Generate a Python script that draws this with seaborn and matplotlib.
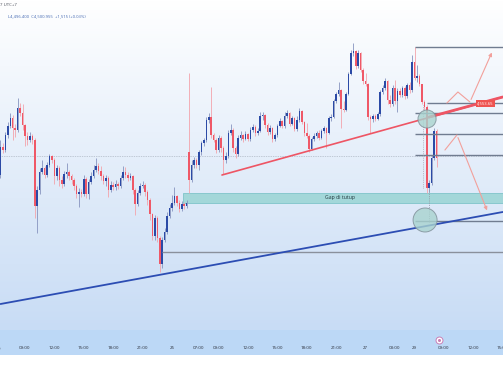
import numpy as np
import matplotlib
matplotlib.use('Agg')
import matplotlib.pyplot as plt
import matplotlib.transforms as mtransforms
from matplotlib.patches import Rectangle, Ellipse
from matplotlib.colors import LinearSegmentedColormap
import seaborn as sns

sns.set_theme(style='white')
plt.rcParams['font.family'] = ['Open Sans', 'DejaVu Sans']

# 15m candles
first_open = 4482
gap_idx = 77
gap_open = 4505

close = np.array([
    4510, 4507, 4522, 4531, 4539, 4529, 4527, 4549, 4544, 4532, 4521, 4517,
    4521, 4517, 4451, 4467, 4485, 4489, 4482, 4492, 4501, 4497, 4481, 4489,
    4477, 4473, 4483, 4485, 4481, 4477, 4471, 4463, 4465, 4463, 4478, 4463,
    4475, 4481, 4487, 4491, 4486, 4481, 4476, 4479, 4467, 4472, 4470, 4473,
    4471, 4479, 4485, 4482, 4479, 4481, 4467, 4453, 4464, 4471, 4472, 4465,
    4457, 4443, 4421, 4439, 4419, 4393, 4417, 4425, 4441, 4449, 4454, 4461,
    4454, 4448, 4453, 4451, 4454, 4477, 4492, 4497, 4492, 4505, 4514, 4517,
    4537, 4540, 4522, 4517, 4507, 4519, 4509, 4497, 4501, 4524, 4527, 4509,
    4503, 4519, 4522, 4518, 4523, 4518, 4527, 4530, 4524, 4526, 4541, 4542,
    4532, 4525, 4529, 4518, 4522, 4531, 4536, 4531, 4541, 4544, 4533, 4539,
    4528, 4537, 4546, 4535, 4524, 4521, 4508, 4518, 4521, 4524, 4519, 4526,
    4529, 4524, 4539, 4540, 4556, 4563, 4567, 4548, 4547, 4563, 4583, 4604,
    4606, 4591, 4604, 4587, 4576, 4573, 4540, 4538, 4541, 4538, 4543, 4565,
    4569, 4576, 4557, 4553, 4569, 4556, 4566, 4562, 4569, 4561, 4572, 4567,
    4595, 4579, 4581, 4573, 4555, 4550, 4469, 4474, 4499, 4526, 4499])

high = np.array([
    4517, 4514, 4525, 4535, 4544, 4542, 4533, 4559, 4554, 4553, 4533, 4525,
    4525, 4523, 4519, 4471, 4489, 4497, 4491, 4495, 4503, 4502, 4499, 4492,
    4491, 4481, 4486, 4494, 4487, 4483, 4479, 4473, 4469, 4468, 4482, 4480,
    4478, 4485, 4492, 4499, 4494, 4491, 4483, 4482, 4481, 4476, 4475, 4477,
    4475, 4482, 4491, 4490, 4485, 4484, 4482, 4469, 4467, 4474, 4476, 4474,
    4467, 4459, 4444, 4442, 4441, 4421, 4420, 4429, 4445, 4453, 4462, 4470,
    4462, 4457, 4456, 4455, 4457, 4584, 4497, 4500, 4499, 4507, 4516, 4519,
    4540, 4544, 4570, 4524, 4519, 4522, 4521, 4511, 4505, 4527, 4533, 4529,
    4511, 4522, 4526, 4523, 4526, 4524, 4530, 4533, 4532, 4529, 4545, 4545,
    4543, 4534, 4532, 4530, 4524, 4533, 4539, 4537, 4545, 4547, 4545, 4541,
    4540, 4541, 4549, 4547, 4536, 4534, 4523, 4520, 4524, 4526, 4527, 4528,
    4531, 4530, 4541, 4543, 4558, 4565, 4575, 4568, 4556, 4565, 4585, 4607,
    4614, 4607, 4607, 4605, 4589, 4584, 4574, 4542, 4543, 4543, 4545, 4567,
    4572, 4579, 4577, 4562, 4572, 4577, 4569, 4569, 4571, 4571, 4574, 4575,
    4602, 4610, 4592, 4583, 4573, 4557, 4552, 4477, 4502, 4529, 4528])

low = np.array([
    4479, 4504, 4505, 4519, 4529, 4517, 4520, 4525, 4541, 4527, 4511, 4512,
    4515, 4513, 4439, 4424, 4463, 4483, 4479, 4480, 4490, 4494, 4473, 4477,
    4471, 4469, 4471, 4479, 4477, 4473, 4467, 4459, 4450, 4460, 4461, 4459,
    4458, 4473, 4479, 4485, 4483, 4477, 4473, 4471, 4460, 4465, 4467, 4467,
    4468, 4469, 4477, 4479, 4476, 4477, 4463, 4442, 4451, 4462, 4469, 4461,
    4452, 4437, 4417, 4417, 4415, 4385, 4389, 4415, 4423, 4439, 4446, 4452,
    4451, 4445, 4446, 4448, 4449, 4464, 4475, 4489, 4489, 4487, 4502, 4511,
    4515, 4534, 4519, 4515, 4504, 4505, 4505, 4483, 4494, 4499, 4522, 4505,
    4499, 4501, 4517, 4515, 4517, 4516, 4516, 4525, 4521, 4522, 4525, 4537,
    4529, 4522, 4523, 4515, 4516, 4520, 4530, 4529, 4529, 4539, 4531, 4532,
    4526, 4526, 4535, 4533, 4521, 4519, 4505, 4507, 4516, 4519, 4517, 4518,
    4524, 4509, 4523, 4536, 4539, 4554, 4561, 4529, 4545, 4546, 4562, 4582,
    4601, 4588, 4589, 4585, 4573, 4571, 4537, 4524, 4535, 4536, 4537, 4541,
    4563, 4567, 4553, 4550, 4551, 4553, 4545, 4560, 4560, 4558, 4559, 4564,
    4565, 4577, 4575, 4571, 4553, 4547, 4464, 4465, 4472, 4497, 4490])

time_pos = [10, 22, 34, 46, 58, 70, 81, 89, 101, 113, 125, 137, 149, 161, 169, 181, 193, 205]
time_labels = ['09:00', '12:00', '15:00', '18:00', '21:00', '25', '07:00', '09:00', '12:00',
               '15:00', '18:00', '21:00', '27', '03:00', '29', '09:00', '12:00', '15:00']

# drawings (candle index, price)
box_levels = [4610, 4544, 4523, 4502, 4436]
box_start = 169
mid_level, mid_start = 4554, 174
low_level, low_start = 4405, 66
gap_lo, gap_hi, gap_start = 4454, 4464, 74.5
blue_x, blue_y = [0, 205], [4353, 4445]
red_x, red_y = [90.4, 205], [4482, 4560]
red_thick_x, red_thick_y = [175, 205], [4540, 4560]
up_path_x, up_path_y = [182.2, 186.7, 191.6, 201.0], [4554, 4565, 4555, 4607]
dn_path_x, dn_path_y = [181.4, 186.3, 199.0], [4507, 4522, 4444]
circles = [(174.1, 4538, 7.4, 18), (173.3, 4437, 9.8, 24)]

x_lim = (-0.2, 205.1)
y_lim = (4327, 4657)

blue_c, red_c = '#2b4aa6', '#ef5867'
blue_w, red_w = '#8794bf', '#f3a3ab'
level_c = '#707c90'

fig = plt.figure(figsize=(5.03, 3.78), dpi=100)
fig.patch.set_facecolor('white')
ax = fig.add_axes([0, 48 / 378, 1, 330 / 378])

grad = LinearSegmentedColormap.from_list('bg', ['#c8dcf5', '#ffffff'])
ax.imshow(np.linspace(0, 1, 256).reshape(-1, 1), cmap=grad, aspect='auto', origin='lower',
          extent=[x_lim[0], x_lim[1], y_lim[0], y_lim[1]], zorder=0)

idx = np.arange(len(close))
opens = np.r_[first_open, close[:-1]].astype(float)
opens[gap_idx] = gap_open
up = close >= opens
hi = np.maximum(high, np.maximum(opens, close))
lo = np.minimum(low, np.minimum(opens, close))

# current price line
ax.axhline(close[-1] + 2, color='#9aa2ae', lw=0.5, ls=(0, (1, 1.5)), zorder=1)

# gap zone
ax.add_patch(Rectangle((gap_start, gap_lo), x_lim[1] - gap_start, gap_hi - gap_lo,
                       fc='#a3d7d9', ec='#7fc4c9', lw=0.6, zorder=1))
ax.text(138.6, (gap_lo + gap_hi) / 2, 'Gap di tutup', fontsize=3.7, color='#23393f',
        ha='center', va='center', zorder=2)

ax.vlines(idx, lo, hi, colors=np.where(up, blue_w, red_w), lw=0.6, zorder=3)
body_h = np.maximum(np.abs(close - opens), 0.9)
ax.bar(idx, body_h, bottom=np.minimum(opens, close), width=0.62,
       color=np.where(up, blue_c, red_c), lw=0, zorder=4)

# horizontal levels
for lv in box_levels:
    ax.hlines(lv, box_start, x_lim[1], color=level_c, lw=1.0, zorder=5)
ax.hlines(mid_level, mid_start, x_lim[1], color=level_c, lw=1.0, zorder=5)
ax.hlines(low_level, low_start, x_lim[1], color='#8a909c', lw=1.0, zorder=5)

# dotted verticals next to the drop
ax.vlines(172.5, 4469, 4552, color='#b0a7b5', lw=0.6, ls=(0, (1, 1.2)), zorder=5)
ax.vlines(175.0, 4435, 4467, color='#8f99a6', lw=0.6, ls=(0, (1, 1.2)), zorder=5)

# trend lines
sns.lineplot(x=blue_x, y=blue_y, ax=ax, color='#2c4db3', lw=1.3, zorder=6)
sns.lineplot(x=red_x, y=red_y, ax=ax, color='#ee5564', lw=1.2, zorder=6)
sns.lineplot(x=red_thick_x, y=red_thick_y, ax=ax, color='#ee5564', lw=2.0, zorder=6)

for cx, cy, w, h in circles:
    ax.add_patch(Ellipse((cx, cy), w, h, fc='#a9d3cf', ec='#7d8d96', lw=0.7, alpha=0.8, zorder=7))

# projected paths
arrow_c = '#f2a09b'
for px, py in [(up_path_x, up_path_y), (dn_path_x, dn_path_y)]:
    ax.plot(px[:-1], py[:-1], color=arrow_c, lw=0.8, zorder=8)
    ax.annotate('', xy=(px[-1], py[-1]), xytext=(px[-2], py[-2]),
                arrowprops=dict(arrowstyle='-|>', color=arrow_c, lw=0.8, mutation_scale=5),
                zorder=8)

ax.text(198, mid_level - 0.5, '4,553.65', fontsize=3, color='white', ha='center', va='center',
        zorder=9, bbox=dict(boxstyle='square,pad=0.35', fc='#ef5350', ec='none'))

ax.set_xlim(*x_lim)
ax.set_ylim(*y_lim)
ax.set_yticks([])
ax.set_xticks(time_pos)
ax.set_xticklabels(time_labels)
ax.tick_params(axis='x', length=0, pad=11.5, labelsize=3.2, labelcolor='#2a2e39')
for s in ax.spines.values():
    s.set_visible(False)

trans = mtransforms.blended_transform_factory(ax.transData, ax.transAxes)
ax.text(-2, -19 / 330, '06:00', transform=trans, fontsize=3.2, color='#2a2e39',
        ha='center', va='center', clip_on=False)
ax.plot([179], [-10 / 330], marker='o', ms=5, mfc='white', mec='#c87fb7', mew=0.7,
        transform=trans, clip_on=False, zorder=10)
ax.plot([179], [-10 / 330], marker='o', ms=1.2, color='#c87fb7', transform=trans,
        clip_on=False, zorder=11)

# time scale band
fig.patches.append(Rectangle((0, 23 / 378), 1, 25 / 378, transform=fig.transFigure,
                             fc='#bcd8f6', ec='none', zorder=-1))

fig.text(0.0, 1 - 5 / 378, '7 UTC+7', fontsize=3.2, color='#4a4f5a', va='center', ha='left')
fig.text(8 / 503, 1 - 16 / 378, 'L4,496.400  C4,500.955  +1,515 (+0.03%)', fontsize=3.0,
         color='#3f64b0', va='center', ha='left')

fig.savefig('out.png', dpi=100)
